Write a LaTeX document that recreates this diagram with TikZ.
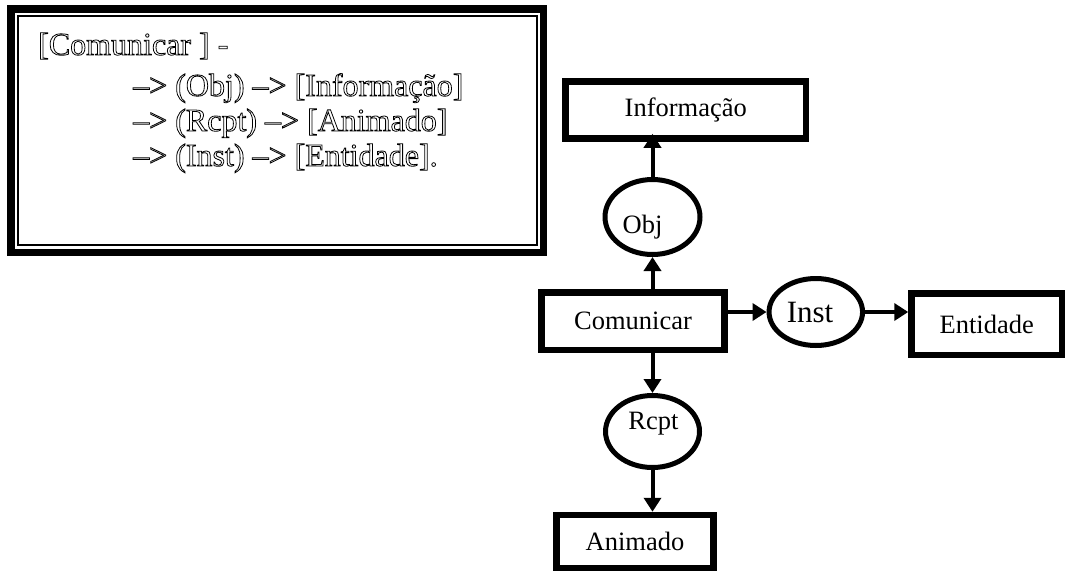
\documentclass[tikz,border=0pt]{standalone}
\usepackage{fontspec}
\setmainfont{Liberation Serif}
\usetikzlibrary{arrows.meta,shapes.geometric}
\newcommand{\hollowtext}[1]{\special{pdf:literal direct 1 Tr 0.8 w}#1\special{pdf:literal direct 0 Tr}}
\tikzset{
  boxnode/.style={draw,rectangle,line width=6.5pt,inner sep=0pt,font=\fontsize{26.5}{30}\selectfont},
  relnode/.style={draw,ellipse,line width=5pt,inner sep=0pt},
  reltext/.style={inner sep=0pt,anchor=base,font=\fontsize{26.5}{30}\selectfont},
  linetext/.style={inner sep=0pt,anchor=base west,font=\fontsize{32}{36}\selectfont},
  arr/.style={line width=4pt,-{Triangle[length=14pt,width=17pt]}}
}
\begin{document}
\begin{tikzpicture}[x=1pt,y=-1pt]
\useasboundingbox (0,0) rectangle (1065,571);
% left text box with double border
\draw[line width=7.5pt] (11,9) rectangle (543.7,252.7);
\draw[line width=1.8pt] (17.7,15.7) rectangle (537,244.7);
\node[linetext] (l1) at (38,55) {\hollowtext{[Comunicar ] -}};
\node[linetext] (l2) at (133,96) {\hollowtext{–> (Obj) –> [Informação]}};
\node[linetext] (l3) at (133,131) {\hollowtext{–> (Rcpt) –> [Animado]}};
\node[linetext] (l4) at (133,166) {\hollowtext{–> (Inst) –> [Entidade].}};
% concept boxes
\node[boxnode,minimum width=240.5pt,minimum height=57pt] (informacao) at (685.75,110) {Informação};
\node[boxnode,minimum width=183pt,minimum height=57.5pt] (comunicar) at (633,321.25) {Comunicar};
\node[boxnode,minimum width=150.5pt,minimum height=61.5pt] (entidade) at (986.75,324.25) {Entidade};
\node[boxnode,minimum width=157pt,minimum height=53pt] (animado) at (635,541.5) {Animado};
% relation ellipses
\node[relnode,minimum width=95pt,minimum height=75pt] (obj) at (652.5,217) {};
\node[relnode,minimum width=93.5pt,minimum height=67pt] (inst) at (815.8,312) {};
\node[relnode,minimum width=94pt,minimum height=72pt] (rcpt) at (652.5,431.5) {};
\node[reltext] (objtxt) at (642.5,233) {Obj};
\node[reltext,font=\fontsize{31}{34}\selectfont] (insttxt) at (810,322.7) {Inst};
\node[reltext] (rcpttxt) at (653.5,429) {Rcpt};
% connectors
\draw[arr] (obj.south |- comunicar.north) -- (obj.south);
\draw[arr] (obj.north) -- ([yshift=8pt]obj.north |- informacao.south);
\draw[arr] (inst.west -| comunicar.east) -- (inst.west);
\draw[arr] (inst.east) -- (inst.east -| entidade.west);
\draw[arr] (rcpt.north |- comunicar.south) -- (rcpt.north);
\draw[arr] (rcpt.south) -- (rcpt.south |- animado.north);
\end{tikzpicture}
\end{document}
